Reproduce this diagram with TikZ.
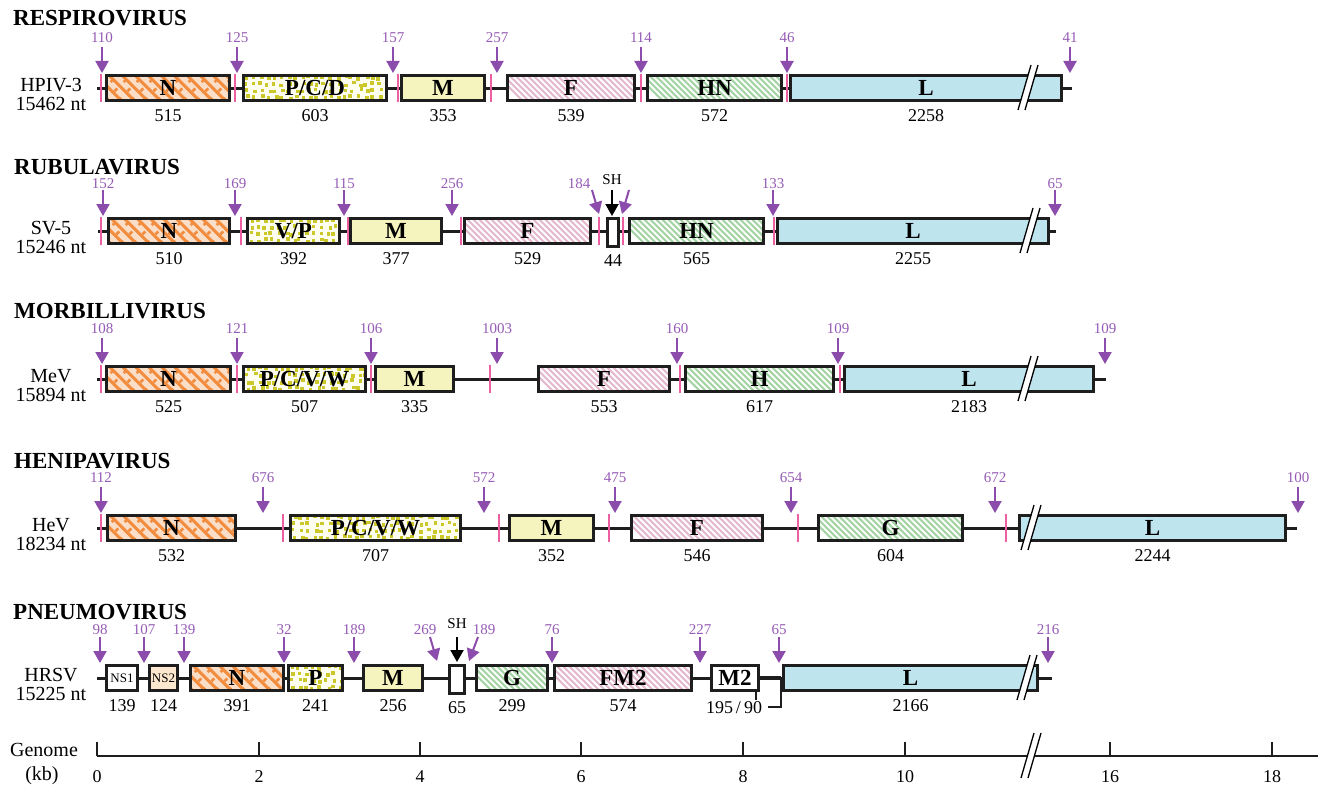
\documentclass[tikz,border=0pt]{standalone}
\usepackage{fontspec}
\setmainfont{Liberation Serif}
\usetikzlibrary{arrows.meta,calc}

\definecolor{boxline}{RGB}{30,30,30}
\definecolor{junc}{RGB}{236,96,162}
\definecolor{arrowc}{RGB}{140,76,172}
\definecolor{numc}{RGB}{150,92,182}
\definecolor{peach}{RGB}{250,222,200}
\definecolor{orangec}{RGB}{242,140,62}
\definecolor{dotbg}{RGB}{254,254,240}
\definecolor{dotc}{RGB}{204,200,44}
\definecolor{mfill}{RGB}{246,244,190}
\definecolor{lfill}{RGB}{190,228,238}
\definecolor{fstripe}{RGB}{228,186,206}
\definecolor{gstripe}{RGB}{166,212,166}
\definecolor{nsfill}{RGB}{252,232,206}

\tikzset{
  genebox/.style={draw=boxline, line width=2.6pt, minimum height=25pt, inner sep=0pt,
    font=\fontsize{23}{23}\selectfont\bfseries},
  lattice/.style={fill=peach, path picture={
      \foreach \i in {-10,3,...,240}
        \draw[orangec, line width=3pt] ([xshift=\i pt]path picture bounding box.north west) -- ++(40pt,-40pt);
      \foreach \i in {-40,-27,...,200}
        \draw[orangec, line width=2.6pt, dash pattern=on 4pt off 9pt] ([xshift=\i pt]path picture bounding box.south west) -- ++(40pt,40pt);
    }},
  dotted fill/.style={fill=dotbg, path picture={
      \foreach \i in {0,...,26} {
        \foreach \j in {0,...,3} {
          \pgfmathsetmacro{\ddx}{\i*7+rnd*4.5}
          \pgfmathsetmacro{\ddy}{\j*6.6+rnd*3}
          \fill[dotc] ([shift={(\ddx pt,\ddy pt)}]path picture bounding box.south west) rectangle ++(3.6pt,3.6pt);
        }
      }
    }},
  fstripes/.style={fill=white, path picture={
      \foreach \i in {-10,-4,...,240}
        \draw[fstripe, line width=2.1pt] ([xshift=\i pt]path picture bounding box.north west) -- ++(40pt,-40pt);
    }},
  gstripes/.style={fill=white, path picture={
      \foreach \i in {-10,-4,...,240}
        \draw[gstripe, line width=2.1pt] ([xshift=\i pt]path picture bounding box.north west) -- ++(40pt,-40pt);
    }},
  mfilled/.style={fill=mfill},
  lfilled/.style={fill=lfill},
  plain/.style={fill=white},
  backbone/.style={draw=boxline, line width=3pt},
  junction/.style={draw=junc, line width=2.2pt},
  jarrow/.style={draw=arrowc, line width=2pt, -{Triangle[length=12pt,width=13pt]}},
  sharrow/.style={draw=black, line width=2pt, -{Triangle[length=12pt,width=13pt]}},
  numlbl/.style={text=numc, font=\fontsize{15}{15}\selectfont},
  sizelbl/.style={font=\fontsize{18}{18}\selectfont},
  familylbl/.style={anchor=base west, text depth=0pt, font=\fontsize{23}{23}\selectfont\bfseries},
  strainlbl/.style={align=center, font=\fontsize{20}{19}\selectfont},
  axislbl/.style={font=\fontsize{18}{18}\selectfont},
  every node/.append style={inner sep=0pt}
}

% offset of the intergenic numbers above the gene line
\newcommand\lblup{50}
% gene box with its length underneath: style, name, x1, x2, centre line, label, length
\newcommand\gn[7]{%
  \pgfmathsetmacro\gnx{(#3+#4)/2}%
  \pgfmathsetmacro\gnw{#4-#3-2.6}%
  \node[genebox,#1,minimum width=\gnw pt] (#2) at (\gnx,#5) {#6};%
  \node[sizelbl] (#2-len) at (\gnx,#5+28) {#7};}
% junction marker: x, centre line
\newcommand\pb[2]{\draw[junction] (#1,#2-14) -- (#1,#2+14);}
% vertical intergenic arrow: name, x, centre line, number
\newcommand\jn[4]{%
  \coordinate (#1-t) at (#2,#3-41);
  \coordinate (#1-h) at (#2,#3-15);
  \draw[jarrow] (#1-t) -- (#1-h);
  \node[numlbl] (#1-n) at (#2,#3-\lblup) {#4};}
% slanted intergenic arrow: name, x tail, x head, centre line
\newcommand\jd[4]{%
  \coordinate (#1-t) at (#2,#4-41);
  \coordinate (#1-h) at (#3,#4-17);
  \draw[jarrow] (#1-t) -- (#1-h);}
% axis break: x, centre line
\newcommand\brk[2]{%
  \fill[white] (#1,#2+22) -- (#1+13,#2-23) -- (#1+20,#2-23) -- (#1+7,#2+22) -- cycle;
  \draw[black, line width=1.3pt] (#1,#2+22) -- (#1+13,#2-23) (#1+7,#2+22) -- (#1+20,#2-23);}

\begin{document}
\begin{tikzpicture}[x=1pt,y=-1pt]
\pgfmathsetseed{11}
\useasboundingbox (0,0) rectangle (1325,792);
\fill[white] (0,0) rectangle (1325,792);

% ---------------- Respirovirus ----------------
\node[familylbl] (fam1) at (13,26) {RESPIROVIRUS};
\node[strainlbl] (str1) at (51,94.5) {HPIV-3\\15462 nt};
\coordinate (b1s) at (97,88); \coordinate (b1e) at (1072,88);
\draw[backbone] (b1s) -- (b1e);
\gn{lattice}{r1N}{105}{231}{88}{N}{515}
\gn{dotted fill}{r1P}{242}{388}{88}{P/C/D}{603}
\gn{mfilled}{r1M}{400}{486}{88}{M}{353}
\gn{fstripes}{r1F}{506}{636}{88}{F}{539}
\gn{gstripes}{r1HN}{646}{783}{88}{HN}{572}
\gn{lfilled}{r1L}{789}{1063}{88}{L}{2258}
\brk{1018}{88}
\foreach \x in {101,235,398,491,641,787} {\pb{\x}{88}}
\jn{a11}{102}{88}{110}
\jn{a12}{237}{88}{125}
\jn{a13}{393}{88}{157}
\jn{a14}{497}{88}{257}
\jn{a15}{641}{88}{114}
\jn{a16}{787}{88}{46}
\jn{a17}{1070}{88}{41}

% ---------------- Rubulavirus ----------------
\renewcommand\lblup{47}
\node[familylbl] (fam2) at (14,174) {RUBULAVIRUS};
\node[strainlbl] (str2) at (51,237.5) {SV-5\\15246 nt};
\coordinate (b2s) at (98,231); \coordinate (b2e) at (1056,231);
\draw[backbone] (b2s) -- (b2e);
\gn{lattice}{r2N}{107}{231}{231}{N}{510}
\gn{dotted fill}{r2P}{246}{341}{231}{V/P}{392}
\gn{mfilled}{r2M}{349}{443}{231}{M}{377}
\gn{fstripes}{r2F}{463}{592}{231}{F}{529}
\gn{plain,minimum height=28pt}{r2SH}{606}{620}{232.5}{}{44}
\gn{gstripes}{r2HN}{628}{765}{231}{HN}{565}
\gn{lfilled}{r2L}{776}{1050}{231}{L}{2255}
\brk{1020}{231}
\foreach \x in {101,241,348,461,599,623,774} {\pb{\x}{231}}
\jn{a21}{103}{231}{152}
\jn{a22}{235}{231}{169}
\jn{a23}{344}{231}{115}
\jn{a24}{452}{231}{256}
\jn{a26}{773}{231}{133}
\jn{a27}{1055}{231}{65}
\jd{a25}{592}{599}{231}
\node[numlbl] (a25-n) at (579,184) {184};
\jd{a25b}{629}{622}{231}
\coordinate (sh2-t) at (612,190); \coordinate (sh2-h) at (612,216);
\draw[sharrow] (sh2-t) -- (sh2-h);
\node[font=\fontsize{15}{15}\selectfont] (sh2) at (612,180) {SH};

% ---------------- Morbillivirus ----------------
\renewcommand\lblup{50}
\node[familylbl] (fam3) at (14,318) {MORBILLIVIRUS};
\node[strainlbl] (str3) at (51,385.5) {MeV\\15894 nt};
\coordinate (b3s) at (97,379); \coordinate (b3e) at (1106,379);
\draw[backbone] (b3s) -- (b3e);
\gn{lattice}{r3N}{105}{232}{379}{N}{525}
\gn{dotted fill}{r3P}{242}{367}{379}{P/C/V/W}{507}
\gn{mfilled}{r3M}{374}{455}{379}{M}{335}
\gn{fstripes}{r3F}{537}{671}{379}{F}{553}
\gn{gstripes}{r3H}{684}{835}{379}{H}{617}
\gn{lfilled}{r3L}{843}{1095}{379}{L}{2183}
\brk{1018}{379}
\foreach \x in {101,237,371,490,680,840} {\pb{\x}{379}}
\jn{a31}{102}{379}{108}
\jn{a32}{237}{379}{121}
\jn{a33}{371}{379}{106}
\jn{a34}{497}{379}{1003}
\jn{a35}{677}{379}{160}
\jn{a36}{838}{379}{109}
\jn{a37}{1105}{379}{109}

% ---------------- Henipavirus ----------------
\node[familylbl] (fam4) at (14,468) {HENIPAVIRUS};
\node[strainlbl] (str4) at (51,534.5) {HeV\\18234 nt};
\coordinate (b4s) at (97,528); \coordinate (b4e) at (1297,528);
\draw[backbone] (b4s) -- (b4e);
\gn{lattice}{r4N}{106}{237}{528}{N}{532}
\gn{dotted fill}{r4P}{289}{462}{528}{P/C/V/W}{707}
\gn{mfilled}{r4M}{508}{595}{528}{M}{352}
\gn{fstripes}{r4F}{630}{764}{528}{F}{546}
\gn{gstripes}{r4G}{817}{964}{528}{G}{604}
\gn{lfilled}{r4L}{1018}{1287}{528}{L}{2244}
\brk{1021}{528}
\foreach \x in {101,283,499,609,798,1006} {\pb{\x}{528}}
\jn{a41}{101}{528}{112}
\jn{a42}{263}{528}{676}
\jn{a43}{484}{528}{572}
\jn{a44}{615}{528}{475}
\jn{a45}{791}{528}{654}
\jn{a46}{995}{528}{672}
\jn{a47}{1298}{528}{100}

% ---------------- Pneumovirus ----------------
\renewcommand\lblup{48}
\node[familylbl] (fam5) at (13,619) {PNEUMOVIRUS};
\node[strainlbl] (str5) at (51,684.5) {HRSV\\15225 nt};
\coordinate (b5s) at (97,678); \coordinate (b5e) at (1052,678);
\draw[backbone] (b5s) -- (b5e);
\coordinate (m2r) at (760,678); \coordinate (lle) at (781,678);
\draw[backbone, line width=4pt] (m2r) -- (lle);
\gn{plain,font=\fontsize{13}{13}\selectfont}{r5NS1}{105}{139}{678}{NS1}{139}
\gn{fill=nsfill,font=\fontsize{13}{13}\selectfont}{r5NS2}{148}{179}{678}{NS2}{124}
\gn{lattice}{r5N}{189}{285}{678}{N}{391}
\gn{dotted fill}{r5P}{287}{344}{678}{P}{241}
\gn{mfilled}{r5M}{362}{424}{678}{M}{256}
\gn{plain,minimum height=28pt}{r5SH}{448}{466}{679.5}{}{65}
\gn{gstripes}{r5G}{475}{549}{678}{G}{299}
\gn{fstripes}{r5F}{553}{693}{678}{FM2}{574}
\pgfmathsetmacro\gnw{760-710-2.6}
\node[genebox,plain,minimum width=\gnw pt] (r5M2) at (735,678) {M2};
\gn{lfilled}{r5L}{782}{1039}{678}{L}{2166}
\brk{1017}{678}
% M2 overlap bracket
\coordinate (m2tick) at (756,700);
\draw[boxline, line width=2pt] (r5M2.south -| m2tick) -- (m2tick);
\coordinate (brk5a) at (781,707); \coordinate (brk5b) at (768,707);
\draw[boxline, line width=2.2pt] (lle) -- (brk5a) -- (brk5b);
\node[sizelbl] (r5M2-len) at (734,708) {195\,/\,90};
\jn{a51}{100}{678}{98}
\jn{a52}{144}{678}{107}
\jn{a53}{184}{678}{139}
\jn{a54}{284}{678}{32}
\jn{a55}{354}{678}{189}
\jn{a58}{552}{678}{76}
\jn{a59}{700}{678}{227}
\jn{a510}{779}{678}{65}
\jn{a511}{1048}{678}{216}
\jd{a56}{430}{437}{678}
\node[numlbl] (a56-n) at (425,630) {269};
\jd{a57}{478}{469}{678}
\node[numlbl] (a57-n) at (484,630) {189};
\coordinate (sh5-t) at (457,637); \coordinate (sh5-h) at (457,662);
\draw[sharrow] (sh5-t) -- (sh5-h);
\node[font=\fontsize{15}{15}\selectfont] (sh5) at (457,624) {SH};

% ---------------- Genome scale ----------------
\node[font=\fontsize{20}{20}\selectfont] (gen) at (44,750) {Genome};
\node[font=\fontsize{20}{20}\selectfont] (kb) at (42,776) {(kb)};
\coordinate (ax0) at (97,756); \coordinate (ax1) at (1318,756);
\draw[boxline, line width=1.6pt] (ax0) -- (ax1);
\foreach \x/\t in {97/0,259/2,420/4,581/6,743/8,905/10,1110/16,1272/18} {
  \draw[boxline, line width=1.2pt] (\x,742) -- (\x,756);
  \node[axislbl] at (\x,777) {\t};
}
\brk{1021}{756}
\end{tikzpicture}
\end{document}
